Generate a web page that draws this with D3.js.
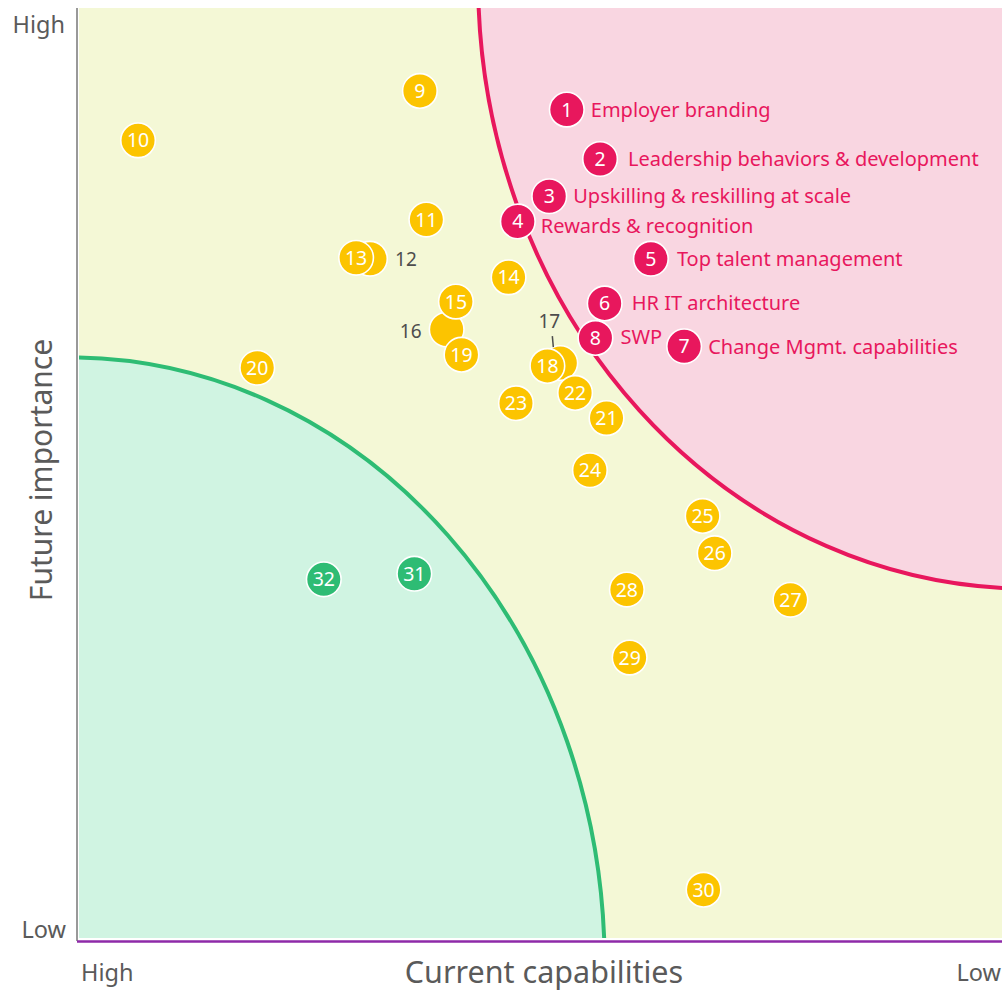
<!DOCTYPE html>
<html>
<head>
<meta charset="utf-8">
<script src="https://cdn.jsdelivr.net/npm/d3@7/dist/d3.min.js"></script>
<style>
  html, body { margin: 0; padding: 0; background: #ffffff; }
  svg { display: block; font-family: "Noto Sans", "Open Sans", sans-serif; }
</style>
</head>
<body>
<svg id="chart" width="1002" height="991"></svg>
<script>
// Capability items: id, current capability (0 = high, 100 = low), future importance (0 = low, 100 = high)
const ids        = [1, 2, 3, 4, 5, 6, 7, 8, 9, 10, 11, 12, 13, 14, 15, 16, 17, 18, 19, 20, 21, 22, 23, 24, 25, 26, 27, 28, 29, 30, 31, 32];
const capability = [52.9, 56.5, 51.0, 47.6, 62.0, 57.0, 65.6, 56.0, 37.0, 6.5, 37.7, 31.6, 30.1, 46.6, 40.9, 39.9, 52.2, 50.8, 41.5, 19.4, 57.2, 53.8, 47.4, 55.4, 67.6, 68.9, 77.1, 59.4, 59.7, 67.7, 36.4, 26.6];
const importance = [89.1, 83.8, 79.8, 77.1, 73.1, 68.3, 63.7, 64.6, 91.1, 85.8, 77.3, 73.1, 73.2, 71.1, 68.5, 65.5, 61.9, 61.6, 62.8, 61.4, 56.0, 58.7, 57.6, 50.4, 45.5, 41.5, 36.5, 37.6, 30.3, 5.4, 39.3, 38.7];
const group      = ["focus", "focus", "focus", "focus", "focus", "focus", "focus", "focus",
                    "mid", "mid", "mid", "mid", "mid", "mid", "mid", "mid", "mid", "mid", "mid", "mid",
                    "mid", "mid", "mid", "mid", "mid", "mid", "mid", "mid", "mid", "mid",
                    "strong", "strong"];
// Names shown next to the priority items
const focusNames = {
  1: "Employer branding",
  2: "Leadership behaviors & development",
  3: "Upskilling & reskilling at scale",
  4: "Rewards & recognition",
  5: "Top talent management",
  6: "HR IT architecture",
  7: "Change Mgmt. capabilities",
  8: "SWP"
};
// Items whose number sits outside the (overlapped) circle
const outsideNumbers = [12, 16, 17];
const axisEnds = { low: "Low", high: "High" };
const xTitle = "Current capabilities";
const yTitle = "Future importance";

(function draw() {
  const svg = d3.select("#chart");
  const pL = 78, pR = 1002, pT = 8, pB = 940;

  const x = d3.scaleLinear().domain([0, 100]).range([pL, pR]);
  const y = d3.scaleLinear().domain([0, 100]).range([pB, pT]);

  const colors = { focus: "#e8175d", mid: "#fcc400", strong: "#2ebc74" };

  const points = ids.map((id, i) => ({ id, cx: capability[i], cy: importance[i], group: group[i] }));

  // Plot background and zones
  svg.append("defs").append("clipPath").attr("id", "plotClip")
    .append("rect").attr("x", pL + 1).attr("y", pT).attr("width", pR - pL - 1).attr("height", pB - pT - 2);

  const zones = svg.append("g").attr("clip-path", "url(#plotClip)");
  zones.append("rect").attr("x", pL).attr("y", pT).attr("width", pR - pL).attr("height", pB - pT)
    .attr("fill", "#f4f8d6");

  // Priority zone: ellipse anchored beyond the low-capability / high-importance corner
  zones.append("ellipse")
    .attr("cx", x(102.9)).attr("cy", y(103))
    .attr("rx", x(59.6) - x(0)).attr("ry", y(0) - y(65.3))
    .attr("fill", "#f9d6e1").attr("stroke", "#e8175d").attr("stroke-width", 4);

  // Strength zone: ellipse anchored at the high-capability / low-importance corner
  zones.append("ellipse")
    .attr("cx", x(-0.9)).attr("cy", y(-2.7))
    .attr("rx", x(57.9) - x(0)).attr("ry", y(0) - y(65.2))
    .attr("fill", "#d0f4e2").attr("stroke", "#2ebc74").attr("stroke-width", 4);

  // Axis lines
  svg.append("line").attr("x1", pL - 1).attr("x2", pL - 1).attr("y1", pT).attr("y2", pB + 1)
    .attr("stroke", "#999999").attr("stroke-width", 2);
  svg.append("line").attr("x1", pL - 1).attr("x2", pR).attr("y1", pB + 1.5).attr("y2", pB + 1.5)
    .attr("stroke", "#8e2aa8").attr("stroke-width", 2.5);

  // Axis end labels and titles
  const axisText = svg.append("g").attr("fill", "#5a5a5a");
  axisText.append("text").attr("x", pL - 13).attr("y", y(100) + 25).attr("text-anchor", "end")
    .attr("font-size", 23.5).text(axisEnds.high);
  axisText.append("text").attr("x", pL - 12).attr("y", y(0) - 2).attr("text-anchor", "end")
    .attr("font-size", 23.5).text(axisEnds.low);
  axisText.append("text").attr("x", x(0) + 3).attr("y", 981).attr("text-anchor", "start")
    .attr("font-size", 23.5).text(axisEnds.high);
  axisText.append("text").attr("x", x(100) - 1).attr("y", 981).attr("text-anchor", "end")
    .attr("font-size", 23.5).text(axisEnds.low);
  axisText.append("text").attr("x", 544).attr("y", 983).attr("text-anchor", "middle")
    .attr("font-size", 30.5).text(xTitle);
  axisText.append("text").attr("transform", `translate(52, 470) rotate(-90)`)
    .attr("text-anchor", "middle").attr("font-size", 30).text(yTitle);

  // Points: items numbered outside are drawn first so their neighbours sit on top
  const ordered = points.filter(p => outsideNumbers.includes(p.id))
    .concat(points.filter(p => !outsideNumbers.includes(p.id)));

  const marks = svg.append("g");
  const r = 17.3;
  const node = marks.selectAll("g.pt").data(ordered).join("g").attr("class", "pt")
    .attr("transform", d => `translate(${x(d.cx)}, ${y(d.cy)})`);
  node.append("circle").attr("r", r).attr("fill", d => colors[d.group])
    .attr("stroke", "#ffffff").attr("stroke-width", 1.6);
  node.filter(d => !outsideNumbers.includes(d.id))
    .append("text").attr("text-anchor", "middle").attr("dy", "0.36em")
    .attr("fill", "#ffffff").attr("font-size", 19.5).text(d => d.id);

  // Numbers placed outside overlapped circles
  const outsideLayout = {
    12: { dx: 36, dy: 7 },
    16: { dx: -36, dy: 8 },
    17: { dx: -11, dy: -35, leader: [[-8, -27], [-7, -16]] }
  };
  outsideNumbers.forEach(id => {
    const p = points.find(d => d.id === id);
    const o = outsideLayout[id];
    const px = x(p.cx), py = y(p.cy);
    svg.append("text").attr("x", px + o.dx).attr("y", py + o.dy).attr("text-anchor", "middle")
      .attr("fill", "#4d4d4d").attr("font-size", 19).text(id);
    if (o.leader) {
      svg.append("line")
        .attr("x1", px + o.leader[0][0]).attr("y1", py + o.leader[0][1])
        .attr("x2", px + o.leader[1][0]).attr("y2", py + o.leader[1][1])
        .attr("stroke", "#4d4d4d").attr("stroke-width", 1.5);
    }
  });

  // Names of the priority items
  const nameNudge = { 1: [24, 0], 2: [28, 0], 3: [24, 0], 4: [23, 5], 5: [26, 0], 6: [27, 0], 7: [24, 1], 8: [25, -1] };
  const names = svg.append("g");
  points.filter(p => focusNames[p.id]).forEach(p => {
    const n = nameNudge[p.id];
    names.append("text")
      .attr("x", x(p.cx) + n[0])
      .attr("y", y(p.cy) + n[1])
      .attr("dy", "0.35em")
      .attr("fill", "#e8175d").attr("font-size", 20)
      .text(focusNames[p.id]);
  });
})();
</script>
</body>
</html>
